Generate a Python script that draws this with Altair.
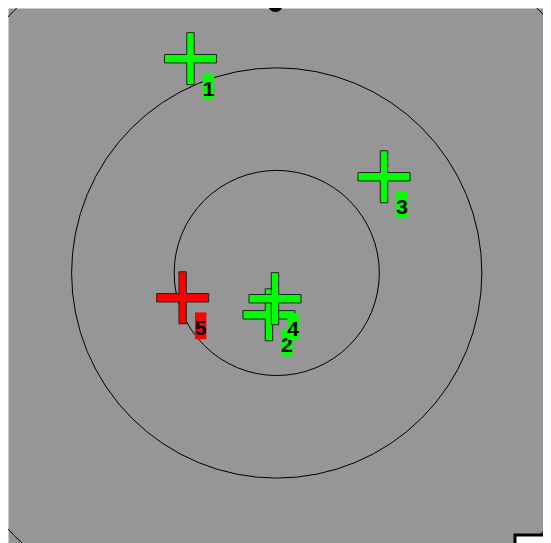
import altair as alt
import pandas as pd

# ---- data ----
ids = ["1", "2", "3", "4", "5"]
xs = [-0.841, -0.076, 1.046, -0.017, -0.917]
ys = [2.089, -0.408, 0.938, -0.251, -0.242]
status = ["ok", "ok", "ok", "ok", "bad"]

ring_r = [1.0, 2.0, 3.62]
marker_x = [-0.012]
marker_y = [2.615]

status_domain = ["ok", "bad"]
status_colors = ["#00ff00", "#ff0000"]

pts = pd.DataFrame({"id": ids, "x": xs, "y": ys, "status": status})
rings = pd.DataFrame({"x": [0.0] * len(ring_r), "y": [0.0] * len(ring_r), "r": ring_r})
marker = pd.DataFrame({"x": marker_x, "y": marker_y})

W = 535
H = 537.5
XD = [-2.62, 2.596]
YD = [-2.657, 2.583]
ppu = W / (XD[1] - XD[0])

xenc = alt.X("x:Q", scale=alt.Scale(domain=XD, nice=False, zero=False), axis=None)
yenc = alt.Y("y:Q", scale=alt.Scale(domain=YD, nice=False, zero=False), axis=None)

CROSS = "M-1,-0.162H-0.142V-1H0.142V-0.162H1V0.162H0.142V1H-0.142V0.162H-1Z"
TAG = "M-0.22,-0.515H0.22V0.515H-0.22Z"

color = alt.Color(
    "status:N",
    scale=alt.Scale(domain=status_domain, range=status_colors),
    legend=alt.Legend(orient="none", legendX=507, legendY=527,
                      fillColor="white", strokeColor="black", padding=16),
)

ring_layer = alt.Chart(rings).mark_point(
    shape="circle", filled=False, stroke="black", strokeWidth=1, opacity=1, clip=True
).encode(
    x=xenc, y=yenc,
    size=alt.Size("r:Q", scale=alt.Scale(type="pow", exponent=2, domain=[0, 4],
                                         range=[0, (8 * ppu) ** 2]), legend=None),
)

marker_layer = alt.Chart(marker).mark_point(
    shape="circle", filled=True, color="black", size=213, opacity=1, clip=True
).encode(x=xenc, y=yenc)

layers = [ring_layer, marker_layer]
for i in ids:
    base = alt.Chart(pts).transform_filter(alt.datum.id == i)
    layers.append(base.mark_point(shape=CROSS, filled=True, size=2704, opacity=1,
                                  stroke="#222222", strokeWidth=1, clip=True)
                  .encode(x=xenc, y=yenc, color=color))
    layers.append(base.mark_point(shape=TAG, filled=True, size=2704, opacity=1,
                                  strokeWidth=0, xOffset=18, yOffset=28, clip=True)
                  .encode(x=xenc, y=yenc, color=color))
    layers.append(base.mark_text(font="Liberation Sans", fontWeight="bold", fontSize=21,
                                 color="black", align="center", baseline="alphabetic",
                                 dx=18, dy=37, clip=True)
                  .encode(x=xenc, y=yenc, text="id:N"))

chart = alt.layer(*layers).properties(
    width=W, height=H,
    autosize=alt.AutoSizeParams(type="none"),
    padding={"left": 0, "top": 0, "right": 0, "bottom": 12},
).configure_view(fill="#969696", stroke="transparent")

try:
    trial = chart.configure_legend(strokeWidth=3)
    trial.to_dict()
    chart = trial
except Exception:
    pass

chart.save("out.html", embed_options={"renderer": "svg", "actions": False})
